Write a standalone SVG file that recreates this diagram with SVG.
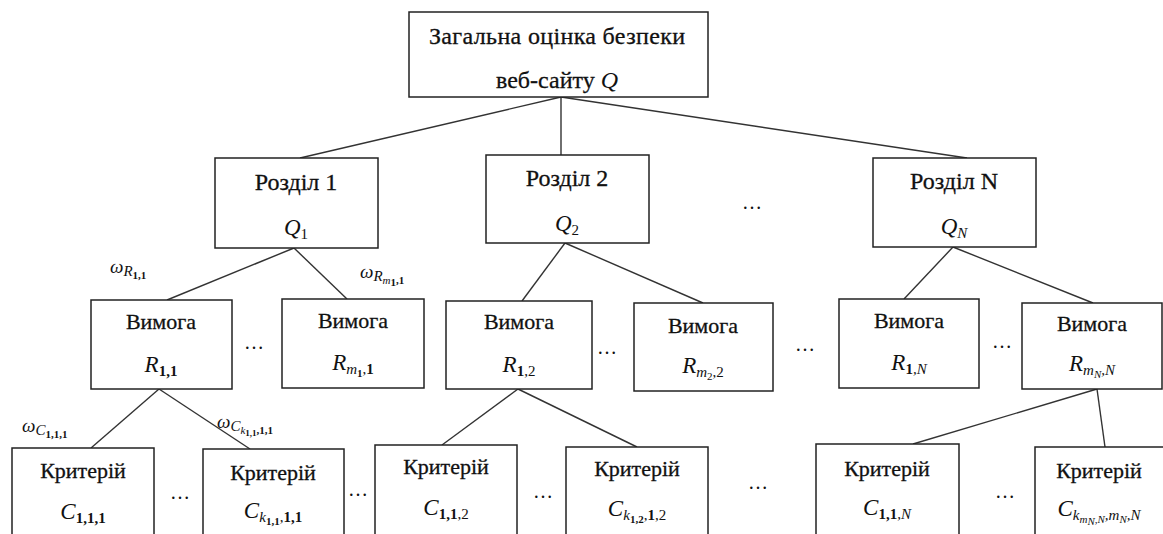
<svg xmlns="http://www.w3.org/2000/svg" width="1163" height="534" viewBox="0 0 1163 534" font-family="Liberation Serif, DejaVu Serif, serif">
<style>
.box{fill:#fff;stroke:#222;stroke-width:1.5}
.ln{stroke:#333;stroke-width:1.4;fill:none}
.t{font-family:"Liberation Serif",serif;font-size:22px;fill:#111;stroke:#111;stroke-width:0.3;text-anchor:middle}
.h{font-size:24px}
.m{font-family:"Liberation Serif",serif;font-style:italic;font-size:23px;fill:#111;text-anchor:middle}
.w{font-family:"Liberation Serif",serif;font-style:italic;font-size:19px;fill:#111}
.s{font-size:15px}
.ss{font-size:11px}
.b{font-weight:bold;font-style:normal}
.n{font-style:normal}
.d{font-family:"Liberation Serif",serif;font-size:20px;fill:#111;text-anchor:middle}
</style>
<rect width="1163" height="534" fill="#fff"/>
<g id="connectors">
<line class="ln" x1="561" y1="97" x2="300" y2="158"/>
<line class="ln" x1="561" y1="97" x2="561" y2="155"/>
<line class="ln" x1="561" y1="97" x2="967" y2="158"/>
<line class="ln" x1="294" y1="248" x2="167" y2="300"/>
<line class="ln" x1="294" y1="248" x2="347" y2="299"/>
<line class="ln" x1="565" y1="243" x2="522" y2="301"/>
<line class="ln" x1="565" y1="243" x2="703" y2="303"/>
<line class="ln" x1="953" y1="247" x2="904" y2="299"/>
<line class="ln" x1="953" y1="247" x2="1093" y2="303"/>
<line class="ln" x1="159" y1="389" x2="91" y2="448"/>
<line class="ln" x1="159" y1="389" x2="250" y2="449"/>
<line class="ln" x1="518" y1="389" x2="442" y2="445"/>
<line class="ln" x1="518" y1="389" x2="637" y2="447"/>
<line class="ln" x1="1097" y1="389" x2="913" y2="444"/>
<line class="ln" x1="1097" y1="389" x2="1105" y2="447"/>
</g>
<g id="root">
<rect class="box" x="409" y="12" width="299" height="85"/>
<text class="t h" x="557" y="44" textLength="256" lengthAdjust="spacing">Загальна оцінка безпеки</text>
<text class="t h" x="557" y="88">веб-сайту <tspan font-style="italic" stroke-width="0">Q</tspan></text>
</g>
<g id="section1">
<rect class="box" x="215" y="158" width="163" height="90"/>
<text class="t h" x="296" y="190">Розділ 1</text>
<text class="m" x="296" y="235">Q<tspan class="s n" dy="4">1</tspan></text>
</g>
<g id="section2">
<rect class="box" x="486" y="155" width="163" height="88"/>
<text class="t h" x="567" y="186">Розділ 2</text>
<text class="m" x="567" y="231">Q<tspan class="s n" dy="4">2</tspan></text>
</g>
<g id="sectionN">
<rect class="box" x="873" y="158" width="163" height="89"/>
<text class="t h" x="954" y="189">Розділ N</text>
<text class="m" x="954" y="234">Q<tspan class="s" dy="4">N</tspan></text>
</g>
<g id="req11">
<rect class="box" x="91" y="300" width="141" height="89"/>
<text class="t" x="161" y="329">Вимога</text>
<text class="m" x="161" y="372">R<tspan class="s b" dy="4">1,1</tspan></text>
</g>
<g id="reqm11">
<rect class="box" x="282" y="299" width="142" height="89"/>
<text class="t" x="353" y="328">Вимога</text>
<text class="m" x="353" y="370">R<tspan class="s" dy="4">m</tspan><tspan class="ss b" dy="3">1</tspan><tspan class="s n" dy="-3">,</tspan><tspan class="s b">1</tspan></text>
</g>
<g id="req12">
<rect class="box" x="446" y="301" width="146" height="88"/>
<text class="t" x="519" y="329">Вимога</text>
<text class="m" x="519" y="372">R<tspan class="s b" dy="4">1</tspan><tspan class="s n">,2</tspan></text>
</g>
<g id="reqm22">
<rect class="box" x="634" y="303" width="139" height="88"/>
<text class="t" x="703" y="333">Вимога</text>
<text class="m" x="703" y="373">R<tspan class="s" dy="4">m</tspan><tspan class="ss n" dy="3">2</tspan><tspan class="s n" dy="-3">,2</tspan></text>
</g>
<g id="req1N">
<rect class="box" x="839" y="299" width="140" height="89"/>
<text class="t" x="909" y="328">Вимога</text>
<text class="m" x="909" y="370">R<tspan class="s b" dy="4">1</tspan><tspan class="s">,N</tspan></text>
</g>
<g id="reqmNN">
<rect class="box" x="1022" y="303" width="140" height="86"/>
<text class="t" x="1092" y="331">Вимога</text>
<text class="m" x="1092" y="371">R<tspan class="s" dy="4">m</tspan><tspan class="ss" dy="3">N</tspan><tspan class="s" dy="-3">,N</tspan></text>
</g>
<g id="crit111">
<rect class="box" x="12" y="448" width="142" height="100"/>
<text class="t" x="83" y="478">Критерій</text>
<text class="m" x="83" y="519">C<tspan class="s b" dy="4">1,1,1</tspan></text>
</g>
<g id="critk11">
<rect class="box" x="203" y="449" width="141" height="100"/>
<text class="t" x="273" y="480">Критерій</text>
<text class="m" x="273" y="518">C<tspan class="s" dy="4">k</tspan><tspan class="ss b" dy="3">1,1</tspan><tspan class="s n" dy="-3">,</tspan><tspan class="s b">1,1</tspan></text>
</g>
<g id="crit112">
<rect class="box" x="375" y="445" width="142" height="100"/>
<text class="t" x="446" y="474">Критерій</text>
<text class="m" x="446" y="515">C<tspan class="s b" dy="4">1,1</tspan><tspan class="s n">,2</tspan></text>
</g>
<g id="critk12">
<rect class="box" x="566" y="447" width="142" height="100"/>
<text class="t" x="637" y="476">Критерій</text>
<text class="m" x="637" y="516">C<tspan class="s" dy="4">k</tspan><tspan class="ss b" dy="3">1,2</tspan><tspan class="s n" dy="-3">,</tspan><tspan class="s b">1</tspan><tspan class="s n">,2</tspan></text>
</g>
<g id="crit11N">
<rect class="box" x="816" y="444" width="143" height="100"/>
<text class="t" x="887" y="476">Критерій</text>
<text class="m" x="887" y="515">C<tspan class="s b" dy="4">1,1</tspan><tspan class="s">,N</tspan></text>
</g>
<g id="critkNN">
<rect class="box" x="1035" y="447" width="140" height="100"/>
<text class="t" x="1099" y="478">Критерій</text>
<text class="m" x="1099" y="516">C<tspan class="s" dy="4">k</tspan><tspan class="ss" dy="3">m</tspan><tspan class="ss" dy="2">N</tspan><tspan class="ss" dy="-2">,N</tspan><tspan class="s" dy="-3">,m</tspan><tspan class="ss" dy="3">N</tspan><tspan class="s" dy="-3">,N</tspan></text>
</g>
<g id="weights">
<text class="w" x="110" y="273">ω<tspan class="s" dy="3">R</tspan><tspan class="ss b" dy="3">1,1</tspan></text>
<text class="w" x="360" y="278">ω<tspan class="s" dy="3">R</tspan><tspan class="ss" dy="3">m</tspan><tspan class="ss b" dy="2" font-size="9">1</tspan><tspan class="ss b" dy="-2">,1</tspan></text>
<text class="w" x="22" y="432">ω<tspan class="s" dy="3">C</tspan><tspan class="ss b" dy="3">1,1,1</tspan></text>
<text class="w" x="217" y="428">ω<tspan class="s" dy="3">C</tspan><tspan class="ss" dy="3">k</tspan><tspan class="b" font-size="9" dy="2">1,1</tspan><tspan class="ss b" dy="-2">,1,1</tspan></text>
</g>
<g id="ellipses">
<text class="d" x="752" y="209">…</text>
<text class="d" x="254" y="349">…</text>
<text class="d" x="607" y="354">…</text>
<text class="d" x="805" y="351">…</text>
<text class="d" x="1002" y="348">…</text>
<text class="d" x="180" y="499">…</text>
<text class="d" x="358" y="496">…</text>
<text class="d" x="543" y="498">…</text>
<text class="d" x="758" y="489">…</text>
<text class="d" x="1005" y="498">…</text>
</g>
</svg>
